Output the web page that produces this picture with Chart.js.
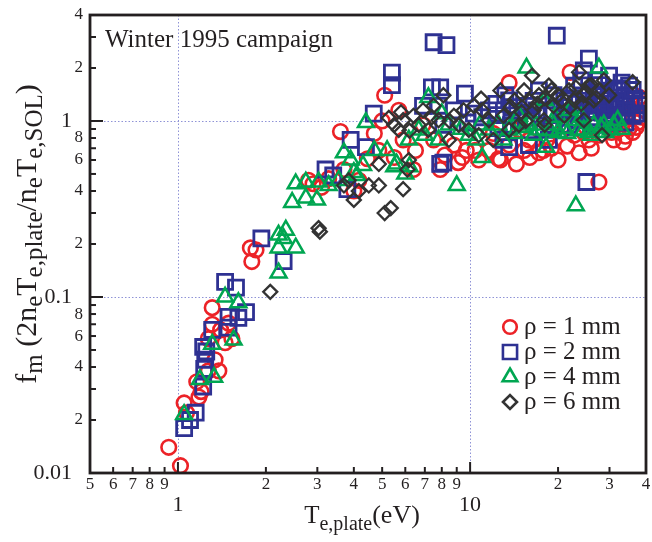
<!DOCTYPE html>
<html>
<head>
<meta charset="utf-8">
<title>f_m vs T_e,plate</title>
<script src="https://cdn.jsdelivr.net/npm/chart.js@4.4.0/dist/chart.umd.min.js"></script>
<style>
  body { margin: 0; background: #fff; }
  #fmChart { display: block; }
</style>
</head>
<body>
<canvas id="fmChart" width="652" height="542"></canvas>
<script>
// values, [Te_plate (eV), f_m]
var rho1Points = [
  [0.93,0.014],[1.02,0.011],[1.05,0.025],[1.07,0.022],[1.16,0.033],[1.18,0.027],[1.20,0.029],[1.27,0.038],
  [1.34,0.044],[1.38,0.038],[1.31,0.07],[1.27,0.058],[1.31,0.087],[1.40,0.065],[1.49,0.071],[1.45,0.055],
  [1.53,0.058],[1.77,0.19],[1.79,0.159],[1.85,0.185],[2.8,0.46],[3.1,0.42],[2.9,0.44],[3.28,0.47],
  [3.6,0.87],[3.7,0.53],[4.0,0.40],[4.16,0.46],[4.45,0.61],[4.7,0.85],[4.87,0.68],[5.1,1.40],[5.0,1.0],
  [5.7,1.15],[5.5,0.62],[5.9,0.78],[6.4,0.53],[6.5,0.68],[6.9,0.95],[7.5,0.78],[7.9,0.53],[8.2,0.64],
  [8.8,0.73],[9.1,0.58],[9.4,0.62],[9.7,0.68],[10.4,0.68],[10.7,0.6],[11.6,0.68],[12.5,0.61],[12.7,0.6],
  [13.6,0.73],[14.4,0.57],[15.3,0.68],[13.6,1.65],[14.7,0.89],[15.9,0.78],[16,0.62],[17.2,0.66],[17.8,0.68],
  [18.3,0.78],[19,0.7],[20,0.6],[21,0.95],[21.5,0.72],[22,1.89],[22.7,0.83],[23.6,0.66],[24.5,0.86],
  [25.5,0.78],[26,0.7],[27.6,0.45],[27.6,0.83],[29.9,0.95],[30.5,0.86],[31,0.78],[32.3,1.07],[33.5,0.76],
  [33.5,1.31],[34,0.82],[34.5,1.05],[35,0.91],[36,0.86],[36,1.22],[36.5,1.40],[37,0.92],[37.5,0.98],
  [38,1.36],[38.5,1.05],[39,1.15],[39.5,1.25],[35,1.17],[32,0.89],[27.6,1.31],[29.3,1.15],[12,0.85]
];
var rho2Points = [
  [1.05,0.018],[1.10,0.020],[1.15,0.022],[1.22,0.031],[1.23,0.039],[1.24,0.044],[1.25,0.049],[1.22,0.052],
  [1.31,0.065],[1.49,0.067],[1.49,0.077],[1.61,0.076],[1.71,0.082],[1.45,0.122],[1.58,0.113],[1.93,0.215],
  [2.3,0.16],[3.2,0.53],[3.4,0.49],[3.8,0.41],[3.9,0.78],[4.4,0.71],[4.68,1.1],[5.4,1.88],[5.4,1.6],
  [7.4,1.55],[7.9,1.55],[7.5,2.8],[8.3,2.7],[9.6,1.43],[7.9,0.57],[8.1,0.58],[6.9,1.22],[7.8,1.22],
  [8.1,0.95],[8.8,1.15],[11.6,1.15],[12.5,0.91],[12.3,1.25],[13.2,1.40],[13.6,1.31],[13.6,0.71],[14.7,1.01],
  [15.9,1.22],[17.2,1.49],[17.9,0.89],[19.3,1.15],[19.8,3.05],[21,1.31],[22.7,1.59],[23.6,1.01],[24.5,1.94],
  [25,0.45],[25.5,2.26],[26.5,1.40],[27.6,1.70],[28.7,1.15],[29.9,1.81],[30.3,1.31],[31,1.01],[32.3,1.49],
  [33.5,1.22],[35,1.59],[36,1.07],[27,1.01],[25.5,1.22],[21.8,0.95],[18.6,0.78],[15.9,0.73],[13,0.78],
  [24.5,1.23],[26.5,1.12],[28.7,1.40],[31,1.18],[32.8,1.31],[34.4,1.12],[36.5,1.34],[37.8,1.23],[32,1.53],
  [29.3,1.04],[25.5,1.45],[22.7,1.15],[21,1.04],[19.3,1.40],[18.3,1.08],[16.9,1.15],[15.6,1.04],[14.5,1.12],
  [13.8,0.946],[12.3,1.08],[20.5,1.20],[22,1.35],[23,1.25],[24,1.12],[25,1.30],[26,1.05],[27,1.38],[28,1.25],
  [29,1.10],[30,1.45],[31.5,1.28],[33,1.08],[34,1.40],[35.5,1.25],[37,1.10],[38.5,1.30],[34,0.98],[30,0.98],
  [26.5,0.95],[23,0.92],[36,1.50],[33,1.65],[28,1.60],[24,1.70],[19,0.92],[16.5,1.30],[14,1.20],[11,1.05],
  [10.3,1.10],[9.8,0.98]
];
var rho4Points = [
  [1.05,0.0215],[1.19,0.034],[1.33,0.035],[1.31,0.054],[1.55,0.057],[1.45,0.1],[1.61,0.093],[2.21,0.137],
  [2.21,0.225],[2.34,0.24],[2.21,0.19],[2.53,0.19],[2.3,0.215],[2.46,0.345],[2.53,0.44],[2.74,0.45],
  [2.74,0.365],[2.99,0.356],[3.03,0.45],[3.28,0.43],[3.55,0.46],[3.7,0.66],[3.9,0.6],[4.1,0.49],[4.0,0.51],
  [4.4,0.98],[4.3,0.56],[4.7,0.68],[5.2,0.68],[5.5,0.55],[5.6,0.57],[6.0,0.5],[6.2,0.55],[6.17,0.78],
  [6.67,0.89],[7.0,0.83],[7.2,1.36],[7.8,0.78],[8.0,1.1],[8.46,0.95],[9.0,0.43],[9.3,0.9],[9.9,0.83],
  [10.5,0.78],[10.8,0.95],[11,0.62],[11.6,0.89],[12.5,0.95],[13.6,0.89],[14.2,0.85],[14.7,1.07],[15.3,0.92],
  [15.6,2.0],[15.9,0.95],[16.5,0.83],[16.8,0.95],[17.2,0.89],[18.2,0.71],[18,1.31],[18.8,0.88],[19.3,0.95],
  [19.5,1.05],[20,0.86],[21,0.91],[21.5,0.85],[22,1.15],[22.7,1.01],[23,0.33],[23.5,0.88],[24,1.05],
  [24.5,0.89],[25.5,0.86],[26,0.83],[26.5,0.95],[27.6,2.0],[28,0.92],[28.7,0.95],[29,0.86],[30.3,0.89],
  [31,0.95],[32,1.01],[33,0.9],[13,0.78]
];
var rho6Points = [
  [2.07,0.107],[3.03,0.246],[3.06,0.235],[3.7,0.43],[3.84,0.46],[4.0,0.356],[4.16,0.40],[4.5,0.43],
  [4.87,0.57],[5.1,0.30],[5.35,0.32],[4.87,0.43],[5.27,1.04],[5.5,0.95],[5.7,0.89],[5.8,1.12],[5.9,1.01],
  [5.9,0.41],[6.17,0.6],[6.1,0.53],[6.2,0.88],[6.4,1.07],[6.67,0.95],[6.9,1.15],[7.2,0.89],[7.4,1.05],
  [7.5,1.22],[7.8,1.01],[8.1,1.40],[8.46,0.78],[8.5,1.0],[8.8,1.07],[9.15,0.95],[9.5,1.15],[9.9,0.89],
  [10.3,1.22],[10.9,1.34],[10.7,0.83],[11,1.15],[11.6,1.01],[12,0.78],[12.7,1.49],[13,1.07],[13.6,0.89],
  [13.8,1.2],[14.2,1.31],[14.7,0.95],[15,1.12],[15.3,1.49],[15.5,1.0],[16,1.3],[16.3,1.81],[16.5,1.15],
  [17,1.25],[17.2,1.40],[17.9,1.01],[18,1.35],[18,0.95],[18.6,1.59],[19,1.5],[19.3,1.22],[20,1.40],
  [20.5,1.3],[21,1.07],[21.8,1.49],[22,1.2],[22.7,1.31],[23,1.55],[23.6,1.89],[24,1.25],[24.5,1.40],
  [25,1.45],[25.5,1.59],[26,1.6],[26.5,1.31],[27,1.35],[27.6,1.49],[28.3,0.83],[28.7,1.70],[29.9,1.40],
  [36,1.66],[24.5,1.01]
];

var seriesLabels = ["\u03c1 = 1 mm", "\u03c1 = 2 mm", "\u03c1 = 4 mm", "\u03c1 = 6 mm"];

var xTickValues = [0.5,0.6,0.7,0.8,0.9,1,2,3,4,5,6,7,8,9,10,20,30,40];
var xTickLabels = ["5","6","7","8","9","1","2","3","4","5","6","7","8","9","10","2","3","4"];
var yTickValues = [0.01,0.02,0.03,0.04,0.05,0.06,0.07,0.08,0.09,0.1,0.2,0.3,0.4,0.5,0.6,0.7,0.8,0.9,1,2,3,4];
var yTickLabels = ["0.01","2","","4","","6","","8","","0.1","2","","4","","6","","8","","1","2","","4"];
var xMajor = [1, 10];
var yMajor = [0.01, 0.1, 1];

var serif = '"Liberation Serif", "Times New Roman", serif';
var inkColor = "#231f20";
var gridColor = "#8f93d6";

function toXY(list) {
  return list.map(function (p) { return { x: p[0], y: p[1] }; });
}
function isMajor(list, v) {
  return list.some(function (m) { return Math.abs(m - v) < 1e-9; });
}

// text made of pieces [text, size, baseline shift]
function richWidth(ctx, parts) {
  var w = 0;
  parts.forEach(function (p) { ctx.font = p[1] + "px " + serif; w += ctx.measureText(p[0]).width; });
  return w;
}
function drawRich(ctx, parts, x, y) {
  parts.forEach(function (p) {
    ctx.font = p[1] + "px " + serif;
    ctx.fillText(p[0], x, y + p[2]);
    x += ctx.measureText(p[0]).width;
  });
}

var decorPlugin = {
  id: "decor",
  beforeDatasetsDraw: function (chart) {
    var ctx = chart.ctx, a = chart.chartArea;
    var xs = chart.scales.x, ys = chart.scales.y;
    ctx.save();
    ctx.strokeStyle = gridColor;
    ctx.lineWidth = 1;
    ctx.setLineDash([1.5, 2]);
    xMajor.forEach(function (v) {
      var px = Math.round(xs.getPixelForValue(v)) + 0.5;
      ctx.beginPath(); ctx.moveTo(px, a.top); ctx.lineTo(px, a.bottom); ctx.stroke();
    });
    [0.1, 1].forEach(function (v) {
      var py = Math.round(ys.getPixelForValue(v)) + 0.5;
      ctx.beginPath(); ctx.moveTo(a.left, py); ctx.lineTo(a.right, py); ctx.stroke();
    });
    ctx.restore();
  },
  afterDraw: function (chart) {
    var ctx = chart.ctx, a = chart.chartArea;
    var xs = chart.scales.x, ys = chart.scales.y;
    ctx.save();

    // frame
    ctx.strokeStyle = inkColor;
    ctx.lineWidth = 2.8;
    ctx.strokeRect(a.left, a.top, a.right - a.left, a.bottom - a.top);

    // inward tick marks
    ctx.lineWidth = 2;
    xTickValues.forEach(function (v) {
      var px = xs.getPixelForValue(v);
      var len = isMajor(xMajor, v) ? 11 : 6;
      ctx.beginPath(); ctx.moveTo(px, a.bottom); ctx.lineTo(px, a.bottom - len); ctx.stroke();
    });
    yTickValues.forEach(function (v) {
      var py = ys.getPixelForValue(v);
      var len = isMajor(yMajor, v) ? 13 : 6;
      ctx.beginPath(); ctx.moveTo(a.left, py); ctx.lineTo(a.left + len, py); ctx.stroke();
    });

    ctx.fillStyle = inkColor;

    // campaign note
    ctx.font = "25px " + serif;
    ctx.textAlign = "left";
    ctx.textBaseline = "alphabetic";
    ctx.fillText("Winter 1995 campaign", 105, 47);

    // x title
    var xParts = [["T", 25, 0], ["e,plate", 20, 7], ["(eV)", 26, 0]];
    var xw = richWidth(ctx, xParts);
    drawRich(ctx, xParts, 362 - xw / 2, 523);

    // y title
    var yParts = [["f", 30, 0], ["m", 25, 6], [" (2n", 30, 0], ["e", 25, 6], ["T", 30, 0], ["e,plate", 25, 6],
                  ["/n", 30, 0], ["e", 25, 6], ["T", 30, 0], ["e,SOL", 25, 6], [")", 30, 0]];
    var yw = richWidth(ctx, yParts);
    ctx.save();
    ctx.translate(36, 234);
    ctx.rotate(-Math.PI / 2);
    drawRich(ctx, yParts, -yw / 2, 0);
    ctx.restore();

    // legend
    var rows = [327, 352, 377, 402];
    chart.data.datasets.forEach(function (ds, i) {
      ctx.strokeStyle = ds.borderColor;
      ctx.fillStyle = "rgba(0,0,0,0)";
      ctx.lineWidth = 2.6;
      Chart.helpers.drawPoint(ctx, {
        pointStyle: ds.pointStyle, radius: ds.legendRadius, borderWidth: 2.6, rotation: 0
      }, 510, rows[i]);
      ctx.fillStyle = inkColor;
      ctx.font = "25px " + serif;
      ctx.fillText(seriesLabels[i], 524, rows[i] + 7);
    });

    ctx.restore();
  }
};

new Chart("fmChart", {
  type: "scatter",
  data: {
    datasets: [
      { label: seriesLabels[0], data: toXY(rho1Points), pointStyle: "circle", pointRadius: 7.3, legendRadius: 6.8,
        borderColor: "#ec2227", backgroundColor: "rgba(0,0,0,0)", borderWidth: 2.6, order: 4 },
      { label: seriesLabels[1], data: toXY(rho2Points), pointStyle: "rect", pointRadius: 10.6, legendRadius: 10,
        borderColor: "#2e3192", backgroundColor: "rgba(0,0,0,0)", borderWidth: 2.8, order: 3 },
      { label: seriesLabels[2], data: toXY(rho4Points), pointStyle: "triangle", pointRadius: 9.2, legendRadius: 8.5,
        borderColor: "#00a651", backgroundColor: "rgba(0,0,0,0)", borderWidth: 2.5, order: 2 },
      { label: seriesLabels[3], data: toXY(rho6Points), pointStyle: "rectRot", pointRadius: 7, legendRadius: 7,
        borderColor: "#333333", backgroundColor: "rgba(0,0,0,0)", borderWidth: 2.3, order: 1 }
    ]
  },
  options: {
    responsive: false,
    animation: false,
    devicePixelRatio: 1,
    layout: { autoPadding: false, padding: { left: 0, right: 6, top: 15, bottom: 0 } },
    plugins: {
      legend: { display: false },
      tooltip: { enabled: false }
    },
    scales: {
      x: {
        type: "logarithmic",
        min: 0.5,
        max: 40,
        afterBuildTicks: function (scale) {
          scale.ticks = xTickValues.map(function (v) { return { value: v }; });
        },
        afterFit: function (scale) {
          scale.height = 69;
          scale.paddingLeft = 0;
          scale.paddingRight = 0;
        },
        grid: { display: false, drawTicks: false },
        border: { display: false },
        ticks: {
          autoSkip: false,
          maxRotation: 0,
          padding: 2,
          color: inkColor,
          font: function (c) {
            var big = c.tick && isMajor(xMajor, c.tick.value);
            return big ? { family: serif, size: 22, lineHeight: 0.93 } : { family: serif, size: 17, lineHeight: 1.1 };
          },
          callback: function (value, index) {
            var lab = xTickLabels[index];
            return isMajor(xMajor, value) ? ["", lab] : lab;
          }
        }
      },
      y: {
        type: "logarithmic",
        min: 0.01,
        max: 4,
        afterBuildTicks: function (scale) {
          scale.ticks = yTickValues.map(function (v) { return { value: v }; });
        },
        afterFit: function (scale) {
          scale.width = 90;
          scale.paddingTop = 0;
          scale.paddingBottom = 0;
        },
        grid: { display: false, drawTicks: false },
        border: { display: false },
        ticks: {
          autoSkip: false,
          padding: 7,
          color: inkColor,
          font: function (c) {
            var big = c.tick && isMajor(yMajor, c.tick.value);
            return { family: serif, size: big ? 22 : 17 };
          },
          callback: function (value, index) {
            var lab = yTickLabels[index];
            return isMajor(yMajor, value) ? lab + "  " : lab;
          }
        }
      }
    }
  },
  plugins: [decorPlugin]
});
</script>
</body>
</html>
